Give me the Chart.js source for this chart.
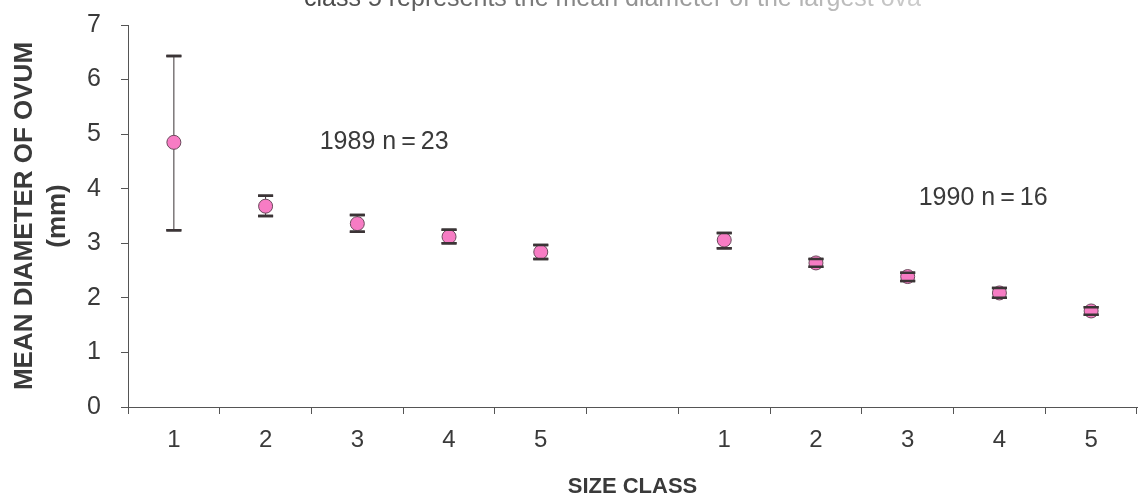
<!DOCTYPE html>
<html>
<head>
<meta charset="utf-8">
<script src="https://cdn.jsdelivr.net/npm/chart.js@4/dist/chart.umd.min.js"></script>
<style>
  html, body { margin: 0; padding: 0; background: #fff; }
  #wrap { width: 1145px; height: 500px; }
</style>
</head>
<body>
<div id="wrap"><canvas id="ovum-chart"></canvas></div>
<script>
// size classes, 1989 fish then a blank slot then 1990 fish
const sizeClasses = ['1', '2', '3', '4', '5', '', '1', '2', '3', '4', '5'];
const meanDiameter = [4.85, 3.68, 3.36, 3.12, 2.84, null, 3.06, 2.64, 2.39, 2.09, 1.76];
const upperError = [6.43, 3.87, 3.52, 3.25, 2.97, null, 3.19, 2.71, 2.46, 2.18, 1.83];
const lowerError = [3.24, 3.50, 3.21, 3.00, 2.71, null, 2.91, 2.57, 2.31, 2.00, 1.69];
const yTicks = [0, 1, 2, 3, 4, 5, 6, 7];

const inkColor = '#3b3436';
const textColor = '#3a3a3a';

function drawCaps(ctx, px, top, bot) {
    ctx.lineWidth = 2.5;
    ctx.beginPath();
    ctx.moveTo(px - 7.5, top);
    ctx.lineTo(px + 7.5, top);
    ctx.moveTo(px - 7.5, bot);
    ctx.lineTo(px + 7.5, bot);
    ctx.stroke();
}

// whisker bars; stems behind the points, caps drawn again on top
const errorBars = {
    id: 'errorBars',
    beforeDatasetsDraw(chart) {
        const { ctx, scales: { x, y } } = chart;
        ctx.save();
        ctx.strokeStyle = inkColor;
        meanDiameter.forEach((v, i) => {
            if (v === null) return;
            const px = x.getPixelForValue(i);
            const top = y.getPixelForValue(upperError[i]);
            const bot = y.getPixelForValue(lowerError[i]);
            ctx.lineWidth = 1;
            ctx.beginPath();
            ctx.moveTo(px, top);
            ctx.lineTo(px, bot);
            ctx.stroke();
            drawCaps(ctx, px, top, bot);
        });
        ctx.restore();
    },
    afterDatasetsDraw(chart) {
        const { ctx, scales: { x, y } } = chart;
        ctx.save();
        ctx.strokeStyle = inkColor;
        meanDiameter.forEach((v, i) => {
            if (v === null) return;
            drawCaps(ctx, x.getPixelForValue(i),
                y.getPixelForValue(upperError[i]), y.getPixelForValue(lowerError[i]));
        });
        ctx.restore();
    }
};

// year labels and the caption line at the top
const notes = {
    id: 'notes',
    afterDraw(chart) {
        const { ctx, scales: { x, y } } = chart;
        ctx.save();
        ctx.fillStyle = textColor;
        ctx.font = '25px "Liberation Sans", Arial, sans-serif';
        ctx.textBaseline = 'middle';
        ctx.textAlign = 'left';
        ctx.fillText('1989 n\u2009=\u200923', x.getPixelForValue(1.59), y.getPixelForValue(4.86));
        ctx.fillText('1990 n\u2009=\u200916', x.getPixelForValue(8.12), y.getPixelForValue(3.83));

        const grad = ctx.createLinearGradient(300, 0, 940, 0);
        grad.addColorStop(0, '#444');
        grad.addColorStop(0.45, '#888');
        grad.addColorStop(1, '#d0d0d0');
        ctx.fillStyle = grad;
        ctx.font = '25px "Liberation Sans", Arial, sans-serif';
        ctx.textBaseline = 'alphabetic';
        ctx.fillText('class 5 represents the mean diameter of the largest ova', 304, 6);
        ctx.restore();
    }
};

new Chart(document.getElementById('ovum-chart'), {
    type: 'line',
    data: {
        labels: sizeClasses,
        datasets: [{
            data: meanDiameter,
            showLine: false,
            pointRadius: 7,
            pointHoverRadius: 7,
            pointBackgroundColor: '#f77cc4',
            pointBorderColor: '#6b4a5c',
            pointBorderWidth: 1
        }]
    },
    options: {
        responsive: true,
        maintainAspectRatio: false,
        animation: false,
        layout: { padding: { top: 25, right: 4, left: 0, bottom: 0 } },
        scales: {
            x: {
                type: 'category',
                offset: true,
                afterFit: s => {
                    s.height = 93;
                    s.paddingLeft = 0;
                    s.paddingRight = 0;
                },
                grid: {
                    offset: true,
                    drawOnChartArea: false,
                    drawTicks: true,
                    tickLength: 7,
                    color: '#555'
                },
                border: { color: '#555', width: 1 },
                ticks: {
                    color: textColor,
                    padding: 12,
                    maxRotation: 0,
                    autoSkip: false,
                    font: { family: "'Liberation Sans', Arial, sans-serif", size: 24 }
                },
                title: {
                    display: true,
                    text: 'SIZE CLASS',
                    color: textColor,
                    padding: { top: 0, bottom: 0 },
                    font: { family: "'Liberation Sans', Arial, sans-serif", size: 22, weight: 'bold' }
                }
            },
            y: {
                min: 0,
                max: 7,
                afterFit: s => {
                    s.width = 128;
                    s.paddingTop = 0;
                    s.paddingBottom = 0;
                },
                afterBuildTicks: s => { s.ticks = yTicks.map(v => ({ value: v })); },
                grid: {
                    drawOnChartArea: false,
                    drawTicks: true,
                    tickLength: 7,
                    color: '#555'
                },
                border: { color: '#555', width: 1 },
                ticks: {
                    color: textColor,
                    padding: 20,
                    font: { family: "'Liberation Sans', Arial, sans-serif", size: 25 }
                },
                title: {
                    display: true,
                    text: ['MEAN DIAMETER OF OVUM', '(mm)'],
                    color: textColor,
                    padding: { top: 9, bottom: 0 },
                    font: { family: "'Liberation Sans', Arial, sans-serif", size: 26, weight: 'bold', lineHeight: 1.25 }
                }
            }
        },
        plugins: {
            legend: { display: false },
            tooltip: { enabled: false }
        }
    },
    plugins: [errorBars, notes]
});
</script>
</body>
</html>
